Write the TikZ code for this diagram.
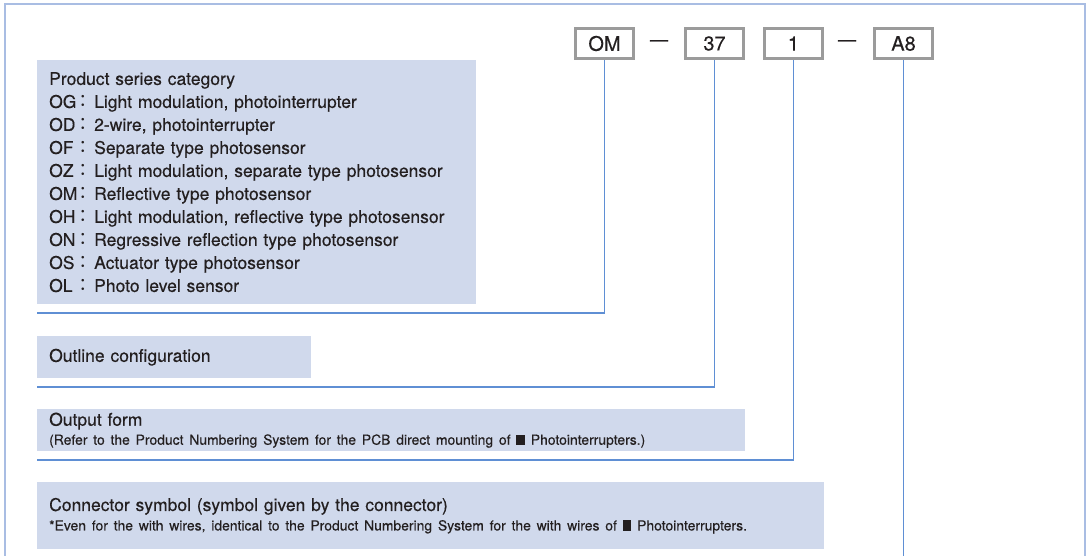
\documentclass[tikz,border=0pt]{standalone}
\usepackage{fontspec}
\setmainfont{TeX Gyre Heros}[FakeBold=0.35]
\newfontfamily\cjk{Noto Sans CJK JP}
\definecolor{framecol}{HTML}{A9BDE3}
\definecolor{wirecol}{HTML}{5F8FD4}
\definecolor{panelcol}{HTML}{D0D9EC}
\definecolor{codeedge}{HTML}{9B9B9B}
\definecolor{inkcol}{HTML}{231F20}
\newcommand\seriescode[1]{\makebox[45pt][l]{\makebox[25pt][l]{#1}{\cjk ：}}}
\newcommand\blacksq{\rule[-0.01em]{0.62em}{0.74em}}
\newcommand\bigtxt{\fontsize{17.5}{23}\selectfont}
\newcommand\smalltxt{\fontsize{13.9}{19}\selectfont}
\begin{document}
\begin{tikzpicture}[x=1pt,y=-1pt,
  panel/.style={fill=panelcol,anchor=north west,inner xsep=12pt,inner ysep=0pt,
    align=left,text=inkcol,font=\bigtxt},
  codebox/.style={draw=codeedge,line width=2.8pt,fill=white,minimum width=58.5pt,
    minimum height=30.5pt,inner sep=0pt,text=inkcol,font=\fontsize{20}{24}\selectfont},
  sep/.style={text=inkcol,inner sep=0pt,font=\fontsize{18}{20}\selectfont},
  wire/.style={draw=wirecol,line width=1.2pt},
  frame/.style={draw=framecol,line width=2pt}]
\useasboundingbox (0,0) rectangle (1088,555);
% outer frame, open at the bottom
\draw[frame] (5,556) -- (5,4) -- (1085,4) -- (1085,556);

% part-number fields
\node[codebox] (om) at (604.5,43.5) {OM};
\node[sep] (d1) at (659,43) {—};
\node[codebox] (n37) at (714.5,43.5) {37};
\node[codebox] (n1) at (793.5,43.5) {1};
\node[sep] (d2) at (847,43) {—};
\node[codebox] (a8) at (903.5,43.5) {A8};

% description panels
\node[panel,minimum width=439pt,minimum height=244pt,text width=415pt] (series) at (37,60)
 {Product series category\\
  \seriescode{OG}Light modulation, photointerrupter\\
  \seriescode{OD}2-wire, photointerrupter\\
  \seriescode{OF}Separate type photosensor\\
  \seriescode{OZ}Light modulation, separate type photosensor\\
  \seriescode{OM}Reflective type photosensor\\
  \seriescode{OH}Light modulation, reflective type photosensor\\
  \seriescode{ON}Regressive reflection type photosensor\\
  \seriescode{OS}Actuator type photosensor\\
  \seriescode{OL}Photo level sensor};
\node[panel,minimum width=274pt,minimum height=42pt,text width=250pt] (outline) at (37,336)
 {Outline configuration};
\node[panel,minimum width=708pt,minimum height=42pt,text width=684pt] (output) at (37,409)
 {Output form\\[-4pt]
  \smalltxt (Refer to the Product Numbering System for the PCB direct mounting of \blacksq\ Photointerrupters.)};
\node[panel,minimum width=787pt,minimum height=67pt,text width=763pt] (connector) at (37,482)
 {Connector symbol (symbol given by the connector)\\[-3.5pt]
  \smalltxt *Even for the with wires, identical to the Product Numbering System for the with wires of \blacksq\ Photointerrupters.};

% leader lines from each field
\coordinate (e1) at (37,313);
\coordinate (e2) at (37,387);
\coordinate (e3) at (37,460);
\coordinate (e4) at (903.5,556);
\draw[wire] (om.south) |- (e1);
\draw[wire] (n37.south) |- (e2);
\draw[wire] (n1.south) |- (e3);
\draw[wire] (a8.south) -- (e4);
\end{tikzpicture}
\end{document}
